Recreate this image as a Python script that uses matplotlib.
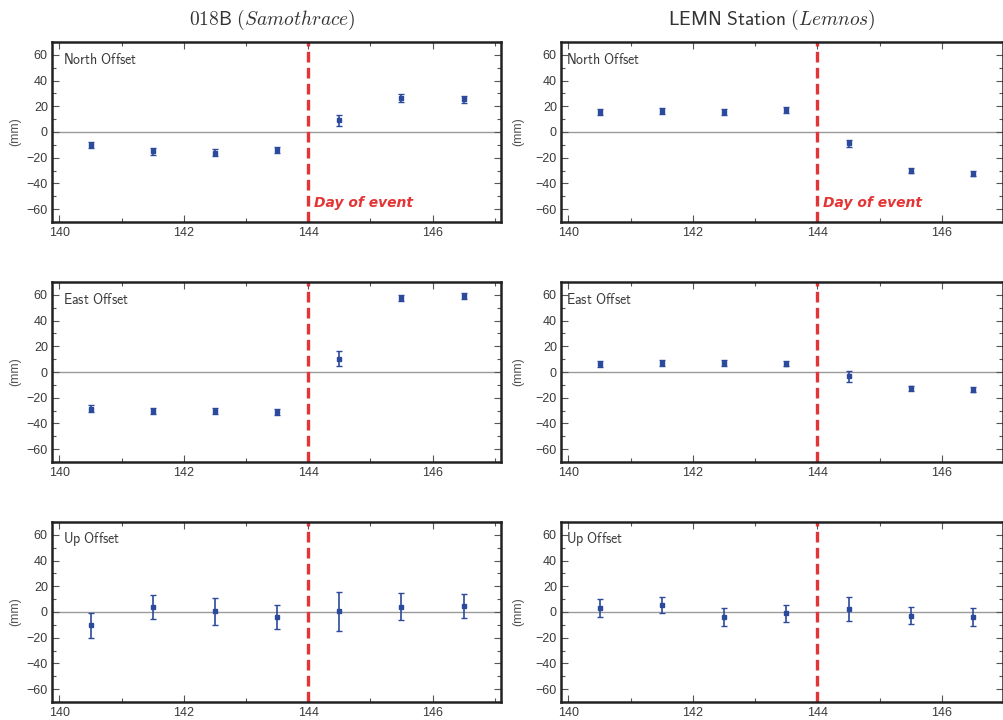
import matplotlib
matplotlib.use("Agg")
import matplotlib.pyplot as plt
from matplotlib.ticker import MultipleLocator

plt.rcParams['mathtext.fontset'] = 'cm'
plt.rcParams['font.family'] = ['Liberation Sans', 'DejaVu Sans']

days = [140.5, 141.5, 142.5, 143.5, 144.5, 145.5, 146.5]
event_day = 144

stations = ["018B", "LEMN Station"]
places = ["Samothrace", "Lemnos"]
components = ["North Offset", "East Offset", "Up Offset"]

# 018B (Samothrace)
north_018b = [-10, -15, -16, -14, 9, 26.5, 25.3]
north_018b_err = [2.5, 2.5, 2.5, 2.5, 4.5, 3, 2.5]
east_018b = [-28.4, -30.3, -30.3, -31, 10.5, 57.7, 59]
east_018b_err = [2.5, 2.5, 2.5, 2.5, 5.8, 2.5, 2.5]
up_018b = [-10.4, 3.9, 0.5, -3.9, 0.5, 4.1, 4.9]
up_018b_err = [9.5, 9.2, 10.6, 9.5, 15, 10.5, 9.2]

# LEMN (Lemnos)
north_lemn = [15.4, 16.2, 15.7, 17, -8.9, -30.2, -32.5]
north_lemn_err = [2.2, 2.2, 2.2, 2.2, 3, 2, 2]
east_lemn = [6.2, 7, 7, 6.5, -3.4, -12.6, -13.7]
east_lemn_err = [2, 2, 2, 2, 4, 2, 2]
up_lemn = [2.8, 5.7, -3.9, -1, 2.3, -2.8, -3.9]
up_lemn_err = [7, 6.3, 6.8, 6.8, 9.4, 6.7, 7]

values = [[north_018b, east_018b, up_018b], [north_lemn, east_lemn, up_lemn]]
errors = [[north_018b_err, east_018b_err, up_018b_err],
          [north_lemn_err, east_lemn_err, up_lemn_err]]

W, H = 1004, 720
fig = plt.figure(figsize=(W / 100, H / 100), dpi=100)

col_x = [(52, 501, (139.88, 147.1)), (561, 1003, (139.88, 146.98))]
row_y = [(42, 222), (282, 462), (522, 702)]
blue = '#2b4a9b'
red = '#e33535'
gray_txt = '#3a3a3a'

for c, (x0, x1, xl) in enumerate(col_x):
    for r, (y0, y1) in enumerate(row_y):
        ax = fig.add_axes([x0 / W, 1 - y1 / H, (x1 - x0) / W, (y1 - y0) / H])
        ax.set_xlim(*xl)
        ax.set_ylim(-70, 70)
        ax.axhline(0, color='#9a9a9a', lw=1.0, zorder=1)
        ax.axvline(event_day, color=red, lw=2.4, linestyle=(0, (3.2, 1.6)), zorder=2)
        ax.errorbar(days, values[c][r], yerr=errors[c][r], fmt='s', color=blue,
                    ms=2.3, lw=1.2, capsize=2, capthick=1.0, zorder=3)
        ax.xaxis.set_major_locator(MultipleLocator(2))
        ax.xaxis.set_minor_locator(MultipleLocator(1))
        ax.yaxis.set_major_locator(MultipleLocator(20))
        ax.yaxis.set_minor_locator(MultipleLocator(10))
        ax.tick_params(which='both', direction='in', top=True, right=True,
                       labelsize=9, labelcolor=gray_txt, color='#555555')
        ax.tick_params(which='major', length=5, width=0.8)
        ax.tick_params(which='minor', length=3, width=0.8)
        ax.tick_params(axis='y', pad=3)
        for s in ax.spines.values():
            s.set_linewidth(1.8)
            s.set_color('#222222')
        ax.set_ylabel('(mm)', fontsize=9, color='#555555', labelpad=4 if c == 0 else 8)
        lx = 0.025 if c == 0 else 0.012
        ax.text(lx, 0.905, r'$\mathsf{' + components[r].replace(' ', r'\ ') + '}$',
                transform=ax.transAxes, fontsize=10, color=gray_txt,
                ha='left', va='center')
        if r == 0:
            ax.text(event_day + 0.09, -55, 'Day of event', color=red,
                    fontsize=10, fontweight='bold', fontstyle='italic',
                    ha='left', va='center', family='DejaVu Sans')

titles_x = [272, 772]
for c in range(2):
    fig.text(titles_x[c] / W, 1 - 20 / H,
             r'$\mathsf{' + stations[c].replace(' ', r'\ ') + r'}\ \mathit{(' + places[c] + ')}$',
             ha='center', va='center', fontsize=14, color='#333333')

fig.savefig('out.png', dpi=100)
